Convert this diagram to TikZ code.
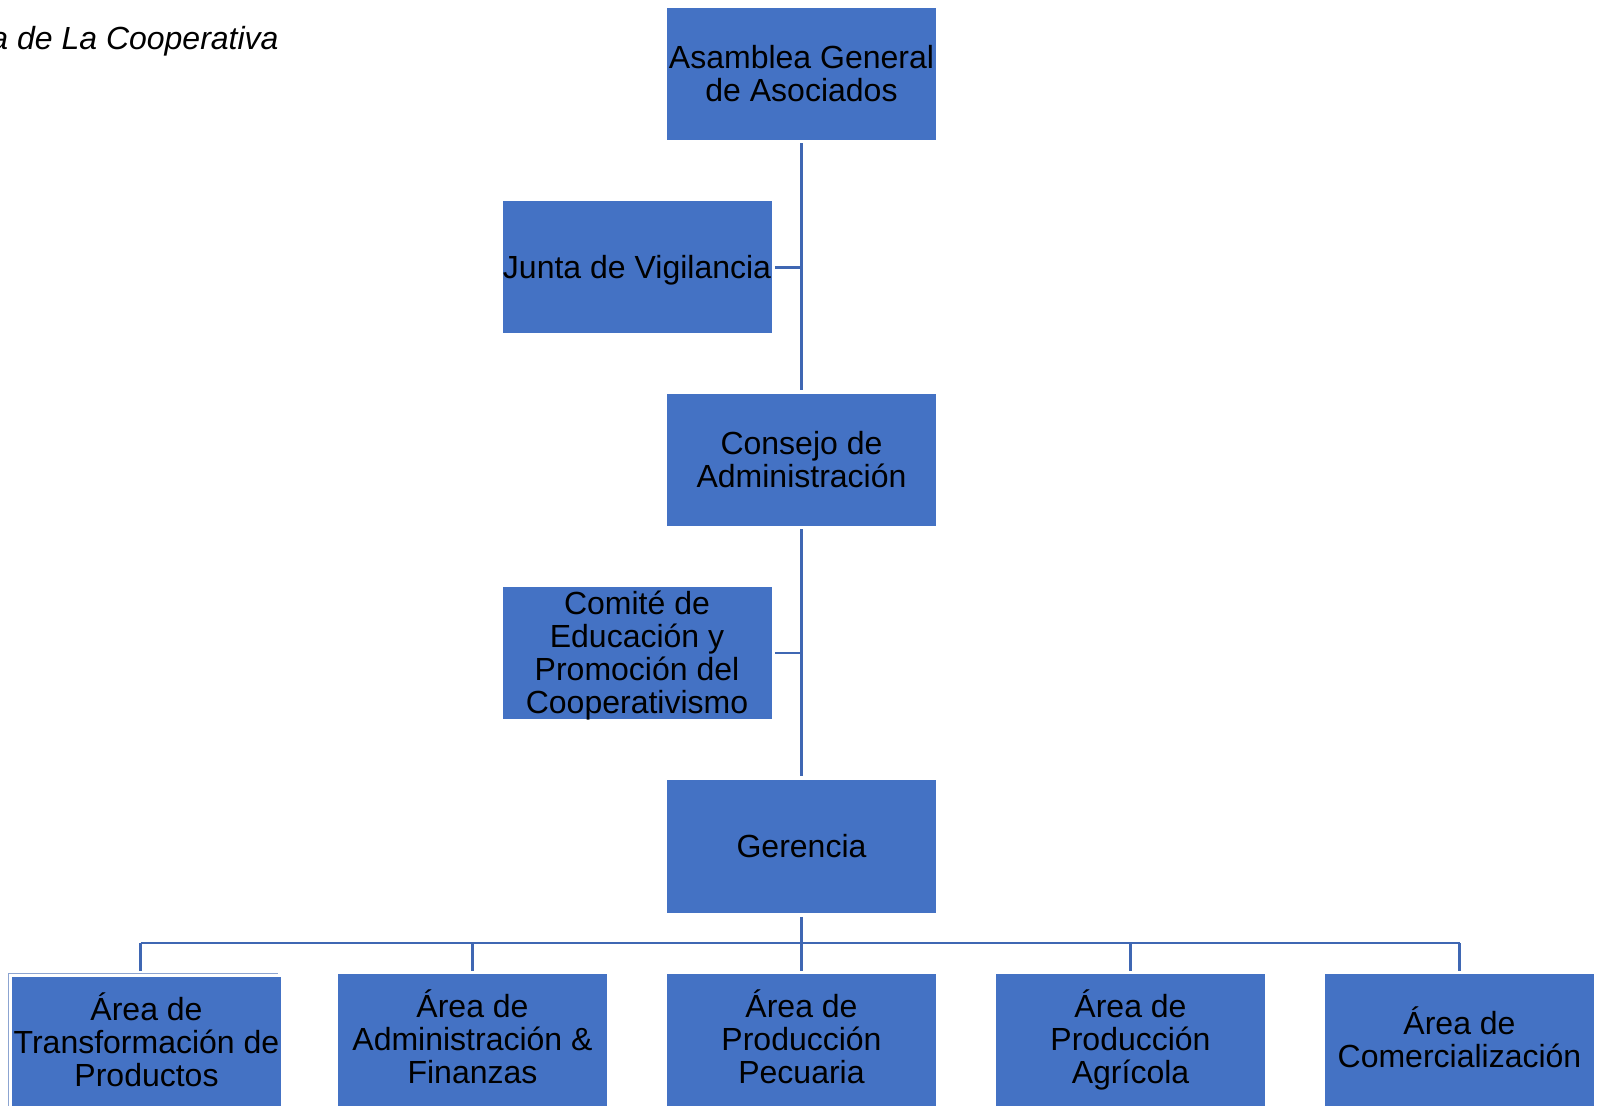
\documentclass[tikz,border=0pt]{standalone}
\usepackage{fontspec}
\setmainfont{Liberation Sans}
\usetikzlibrary{positioning}

\definecolor{boxblue}{HTML}{4472C4}
\definecolor{lineblue}{HTML}{3F67B3}

\tikzset{
    unit/.style={rectangle, fill=boxblue, minimum width=134.5pt, minimum height=66pt,
        inner sep=0pt, align=center, text depth=1pt, font=\fontsize{16}{16.5}\selectfont},
    area/.style={unit, text depth=3pt},
    link/.style={draw=lineblue, line width=1.3pt}
}

\begin{document}
\begin{tikzpicture}[x=0.5pt, y=-0.5pt]
    % Page frame (pixel units, y goes down)
    \useasboundingbox (0,0) rectangle (1602,1106);

    % Title, cut at the left edge
    \node[anchor=base east, inner sep=0pt, font=\fontsize{16}{16.5}\selectfont\itshape]
        (title) at (279,50) {a de La Cooperativa};

    % Main column
    \node[unit] (asamblea) at (801.5,74)  {Asamblea General\\de Asociados};
    \node[unit] (junta)    at (637,267.5) {Junta de Vigilancia};
    \node[unit] (consejo)  at (801.5,460) {Consejo de\\Administración};
    \node[unit] (comite)   at (637,653)   {Comité de\\Educación y\\Promoción del\\Cooperativismo};
    \node[unit] (gerencia) at (801.5,846.5) {Gerencia};

    % Areas under the Gerencia
    \node[area] (area1) at (146.5,1043) {Área de\\Transformación de\\Productos};
    \node[area] (area2) at (472.5,1040) {Área de\\Administración \&\\Finanzas};
    \node[area] (area3) at (801.5,1040) {Área de\\Producción\\Pecuaria};
    \node[area] (area4) at (1130.5,1040) {Área de\\Producción\\Agrícola};
    \node[area] (area5) at (1459.5,1040) {Área de\\Comercialización};

    % thin outline left over round the first area
    \draw[lineblue!60, line width=0.5pt]
        ([shift={(-3,-3)}]area1.south west) |- ([shift={(-3,-3)}]area1.north east);

    % Trunk with the two side units
    \draw[link, shorten <=1.5pt, shorten >=2pt] (asamblea.south) -- (consejo.north);
    \draw[link, shorten <=1.5pt, shorten >=2pt] (consejo.south) -- (gerencia.north);
    \draw[link, shorten <=1.5pt] (junta.east) -- (junta.east -| asamblea.south);
    \draw[link, shorten <=1.5pt] (comite.east) -- (comite.east -| consejo.south);

    % Bus to the areas
    \coordinate (bus) at (801.5,943);
    \draw[link, shorten <=2pt] (gerencia.south) -- (bus);
    \draw[link] ([xshift=-3]bus -| area1.north) -- (bus -| area5.north);
    \draw[link, shorten >=3pt] ([xshift=-3]bus -| area1.north) -- ([xshift=-3]area1.north);
    \foreach \n in {2,3,4,5} {
        \draw[link, shorten >=1.5pt] (bus -| area\n.north) -- (area\n.north);
    }
\end{tikzpicture}
\end{document}
